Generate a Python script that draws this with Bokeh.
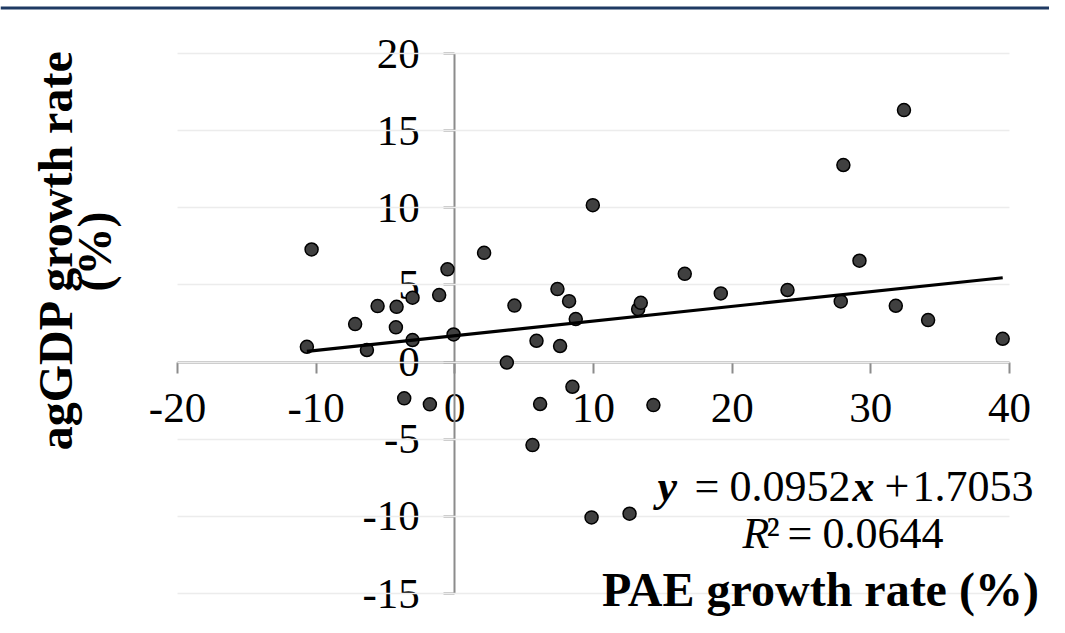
import numpy as np
from bokeh.plotting import figure
from bokeh.models import Range1d, FixedTicker, Label, BoxAnnotation, Grid, PrintfTickFormatter
from bokeh.embed import file_html
from bokeh.resources import INLINE

# ---- data ----
pae_growth = [-10.67, -10.33, -7.19, -6.34, -5.57, -4.25, -4.20, -3.65, -3.05, -3.05,
              -1.80, -1.13, -0.53, -0.09, 2.11, 3.75, 4.30, 5.60, 5.89, 6.15,
              7.40, 7.59, 8.24, 8.48, 8.72, 9.86, 9.95, 12.60, 13.22, 13.41,
              14.32, 16.58, 19.18, 23.99, 27.83, 28.02, 29.18, 31.80, 32.39, 34.13,
              39.51]
agdp_growth = [0.99, 7.30, 2.46, 0.78, 3.63, 2.25, 3.58, -2.35, 4.17, 1.43,
               -2.74, 4.34, 6.01, 1.79, 7.08, -0.03, 3.66, -5.38, 1.38, -2.72,
               4.73, 1.04, 3.95, -1.60, 2.79, -10.07, 10.17, -9.83, 3.43, 3.84,
               -2.79, 5.72, 4.45, 4.67, 3.93, 12.77, 6.57, 3.65, 16.33, 2.72,
               1.51]
x_ticks = [-20, -10, 0, 10, 20, 30, 40]
y_ticks = [-15, -10, -5, 0, 5, 10, 15, 20]
slope = 0.0952
intercept = 1.7053
r_squared = 0.0644
x_title = "PAE growth rate (%)"
y_title_lines = ["agGDP growth rate", "(%)"]

# ---- layout ----
W, H = 1049, 617
X0, X1, Y0, Y1 = -20, 40, -15, 20
FL, FR, FT, FB = 177, 1009, 53, 593     # pixel span of the axis extents
sx = (X1 - X0) / (FR - FL)
sy = (Y1 - Y0) / (FB - FT)

p = figure(width=W, height=H,
           x_range=Range1d(X0 - FL * sx, X1 + (W - FR) * sx),
           y_range=Range1d(Y0 - (H - FB) * sy, Y1 + FT * sy),
           output_backend="svg", toolbar_location=None,
           min_border=0)
p.outline_line_color = None
p.background_fill_color = "white"
p.border_fill_color = "white"

def dx(px):
    return X0 + (px - FL) * sx

def dy(py):
    return Y1 - (py - FT) * sy

AX = "#8c8c8c"
p.xaxis.fixed_location = 0
p.yaxis.fixed_location = 0
p.xaxis.bounds = (X0, X1)
p.yaxis.bounds = (Y0, Y1)
p.xaxis.ticker = FixedTicker(ticks=x_ticks)
p.yaxis.ticker = FixedTicker(ticks=y_ticks)
for ax in (p.xaxis[0], p.yaxis[0]):
    ax.formatter = PrintfTickFormatter(format="%d")
    ax.axis_line_color = AX
    ax.axis_line_width = 2
    ax.major_tick_line_color = AX
    ax.major_tick_line_width = 2
    ax.major_tick_out = 11
    ax.major_tick_in = 0
    ax.minor_tick_line_color = None
    ax.major_label_text_font = "Liberation Serif"
    ax.major_label_text_font_size = "43px"
    ax.major_label_text_color = "black"
    ax.level = "underlay"
p.xaxis.major_label_standoff = 21
p.yaxis.major_label_standoff = 24

p.xgrid.visible = False
GRID = "#ececec"
if "cross_bounds" in Grid.properties():
    p.ygrid.ticker = FixedTicker(ticks=y_ticks)
    p.ygrid.bounds = (Y0, Y1)
    p.ygrid.cross_bounds = (X0, X1)
    p.ygrid.grid_line_color = GRID
    p.ygrid.grid_line_width = 1.5
    p.ygrid.level = "underlay"
else:
    p.ygrid.visible = False
    p.segment(x0=[X0] * len(y_ticks), x1=[X1] * len(y_ticks), y0=y_ticks, y1=y_ticks,
              line_color=GRID, line_width=1.5, level="underlay")

# ---- marks ----
p.scatter(pae_growth, agdp_growth, size=13, fill_color="#404040",
          line_color="black", line_width=1.5)
xf = np.array([min(pae_growth), max(pae_growth)])
p.line(xf, slope * xf + intercept, line_color="black", line_width=3.2)

# ---- titles ----
FONT = "Liberation Serif"
p.add_layout(Label(x=dx(820), y=dy(589), text=x_title, text_align="center",
                   text_baseline="alphabetic", text_font=FONT, text_font_size="48px",
                   text_font_style="bold", text_color="black"))
p.add_layout(Label(x=dx(55), y=dy(249), text=y_title_lines[0], angle=np.pi / 2,
                   text_align="center", text_baseline="alphabetic", text_font=FONT,
                   text_font_size="48px", text_font_style="bold", text_color="black"))
p.add_layout(Label(x=dx(94), y=dy(251), text=y_title_lines[1], angle=np.pi / 2,
                   text_align="center", text_baseline="alphabetic", text_font=FONT,
                   text_font_size="48px", text_font_style="bold", text_color="black"))

# ---- equation ----
EQ = "44px"
def eq_label(px, py, txt, style="normal"):
    p.add_layout(Label(x=dx(px), y=dy(py), text=txt, text_align="left",
                       text_baseline="alphabetic", text_font=FONT, text_font_size=EQ,
                       text_font_style=style, text_color="black"))

EQ1, EQ2 = 486, 533
eq_label(657, EQ1, "y", "bold italic")
eq_label(694, EQ1, "=")
eq_label(729, EQ1, f"{slope:.4f}")
eq_label(852, EQ1, "x", "bold italic")
eq_label(884, EQ1, "+")
eq_label(912, EQ1, f"{intercept:.4f}")
eq_label(742, EQ2, "R", "italic")
eq_label(766, EQ2, "\u00b2")
eq_label(787, EQ2, "=")
eq_label(822, EQ2, f"{r_squared:.4f}")

# ---- top rule ----
p.add_layout(BoxAnnotation(left=0, right=W, top=6, bottom=9,
                           left_units="canvas", right_units="canvas",
                           top_units="canvas", bottom_units="canvas",
                           fill_color="#1f3a63", fill_alpha=1, line_color=None,
                           level="overlay"))

open("out.html", "w").write(file_html(p, INLINE))
